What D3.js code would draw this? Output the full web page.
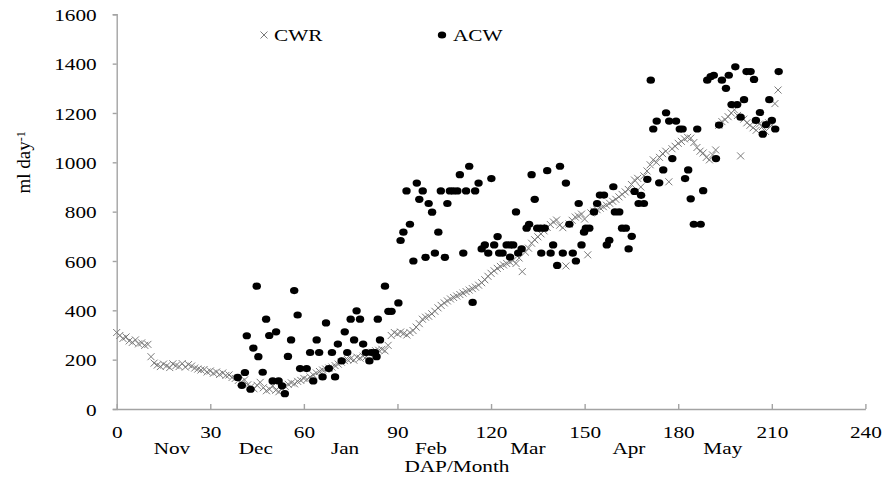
<!DOCTYPE html>
<html>
<head>
<meta charset="utf-8">
<script src="https://cdn.jsdelivr.net/npm/d3@7"></script>
<style>
	body { margin: 0; background: #fff; }
	svg text { font-family: "Liberation Serif", "Times New Roman", serif; fill: #000; }
</style>
</head>
<body>
<div id="chart"></div>
<script>
// Crop water requirement, one value per day after planting (0..212)
const cwrValues = [
	310, 298, 286, 292, 276, 270, 280, 264, 268, 258,
	262, 212, 186, 178, 172, 182, 175, 168, 183, 176,
	172, 184, 170, 180, 174, 166, 162, 158, 160, 150,
	154, 145, 150, 140, 146, 136, 138, 128, 124, 116,
	110, 118, 98, 90, 82, 96, 108, 86, 74, 80,
	94, 76, 70, 84, 92, 100, 106, 102, 112, 116,
	124, 120, 130, 138, 146, 152, 158, 162, 166, 170,
	176, 182, 190, 196, 200, 204, 198, 210, 206, 214,
	212, 224, 230, 236, 238, 242, 236, 258, 298, 310,
	304, 312, 306, 300, 310, 318, 332, 346, 364, 372,
	376, 386, 396, 410, 420, 430, 438, 446, 452, 458,
	464, 470, 476, 482, 488, 494, 502, 512, 524, 538,
	550, 560, 570, 578, 584, 590, 596, 602, 590, 612,
	557, 636, 652, 672, 686, 698, 710, 722, 736, 748,
	758, 766, 745, 735, 580, 750, 765, 778, 782, 790,
	770, 625, 795, 802, 808, 814, 820, 826, 834, 842,
	850, 860, 870, 880, 890, 910, 928, 935, 900, 945,
	965, 990, 1010, 1000, 1020, 1035, 1045, 921, 1055, 1065,
	1077, 1085, 1095, 1101, 1098, 1080, 1060, 1045, 1038, 1020,
	1010, 1030, 1050, 1150, 1165, 1173, 1185, 1200, 1213, 1190,
	1026, 1175, 1160, 1150, 1140, 1130, 1155, 1145, 1125, 1160,
	1150, 1238, 1293,
];

// Actual consumed water: day after planting and value
const acwDays = [
	38.8, 40.1, 41.1, 41.7, 42.9, 43.8, 44.9, 45.4, 46.8, 47.9,
	48.9, 50.0, 51.1, 51.9, 53.0, 53.9, 54.9, 55.9, 56.9, 58.0,
	58.8, 60.9, 62.0, 63.0, 64.1, 64.9, 66.0, 67.1, 68.0, 69.0,
	70.0, 70.9, 72.1, 73.1, 73.9, 75.0, 76.1, 76.9, 78.0, 79.0,
	79.9, 81.0, 81.7, 82.8, 83.3, 83.7, 84.4, 86.0, 87.1, 88.1,
	90.3, 91.0, 91.9, 92.9, 94.0, 95.1, 96.2, 97.0, 98.1, 99.0,
	100.0, 101.1, 102.0, 103.1, 103.9, 105.2, 106.0, 106.8, 107.9, 109.2,
	110.0, 111.1, 112.0, 113.0, 114.1, 114.9, 116.0, 117.0, 118.0, 119.1,
	120.1, 121.0, 122.1, 122.6, 123.7, 125.0, 126.1, 127.1, 126.1, 128.0,
	128.7, 129.8, 131.4, 132.2, 133.0, 134.0, 134.8, 135.9, 136.1, 137.2,
	138.0, 139.1, 139.9, 141.2, 142.1, 143.0, 144.0, 145.1, 146.2, 147.2,
	148.1, 149.0, 149.8, 150.4, 151.5, 153.0, 154.0, 154.9, 156.2, 157.1,
	157.9, 159.2, 159.7, 161.1, 162.0, 163.2, 164.1, 165.1, 166.0, 167.3,
	168.1, 169.0, 170.1, 171.2, 172.0, 173.1, 173.9, 175.2, 176.1, 177.1,
	178.1, 179.3, 180.5, 181.4, 182.2, 183.2, 184.0, 185.0, 186.1, 187.2,
	188.0, 189.3, 190.4, 191.4, 192.1, 193.1, 194.0, 195.3, 196.2, 197.1,
	198.3, 198.9, 200.0, 201.1, 201.9, 203.2, 204.3, 204.9, 206.2, 207.1,
	208.1, 209.2, 210.0, 211.1, 212.2,
];
const acwValues = [
	128, 96, 148, 297, 80, 247, 498, 212, 149, 364,
	298, 114, 313, 114, 94, 62, 213, 280, 480, 381,
	164, 164, 229, 114, 280, 229, 130, 349, 164, 229,
	130, 263, 195, 313, 229, 364, 280, 398, 364, 263,
	229, 195, 229, 229, 212, 364, 280, 498, 396, 396,
	430, 683, 717, 884, 749, 600, 916, 850, 884, 615,
	833, 798, 632, 717, 884, 615, 833, 884, 884, 884,
	950, 632, 884, 984, 432, 884, 916, 649, 665, 632,
	934, 665, 699, 632, 632, 665, 665, 665, 616, 799,
	632, 649, 733, 749, 950, 850, 733, 733, 632, 733,
	966, 632, 665, 582, 984, 632, 916, 749, 632, 600,
	833, 665, 717, 733, 733, 799, 833, 867, 867, 665,
	684, 901, 799, 799, 733, 733, 649, 700, 882, 833,
	866, 833, 931, 1333, 1135, 1167, 917, 969, 1201, 1167,
	1015, 1167, 1135, 1135, 934, 969, 852, 749, 1135, 749,
	885, 1333, 1347, 1353, 1015, 1151, 1333, 1300, 1353, 1234,
	1387, 1234, 1183, 1254, 1368, 1368, 1336, 1170, 1202, 1114,
	1153, 1254, 1170, 1135, 1368,
];

const xTicks = [ 0, 30, 60, 90, 120, 150, 180, 210, 240 ];
const yTicks = [ 0, 200, 400, 600, 800, 1000, 1200, 1400, 1600 ];
const months = [ 'Nov', 'Dec', 'Jan', 'Feb', 'Mar', 'Apr', 'May' ];
const monthMidDay = [ 17.7, 44.6, 73.2, 100.7, 131.8, 164.2, 194.3 ];

const width = 883;
const height = 482;
const margin = { top: 14.3, right: 17.6, bottom: 73, left: 116.7 };
const innerW = width - margin.left - margin.right;
const innerH = height - margin.top - margin.bottom;
const stretch = 1.25; // text in the source is slightly wide
const fontSize = 17;
const axisColor = '#a3a3a3';

const svg = d3.select( '#chart' )
	.append( 'svg' )
	.attr( 'width', width )
	.attr( 'height', height );

const g = svg.append( 'g' )
	.attr( 'transform', `translate(${ margin.left },${ margin.top })` );

const x = d3.scaleLinear().domain( [ 0, 240 ] ).range( [ 0, innerW ] );
const y = d3.scaleLinear().domain( [ 0, 1600 ] ).range( [ innerH, 0 ] );

// wide text helper
function wideText( sel, px, py, anchor ) {
	return sel.append( 'text' )
		.attr( 'x', px / stretch )
		.attr( 'y', py )
		.attr( 'transform', `scale(${ stretch },1)` )
		.attr( 'text-anchor', anchor )
		.style( 'font-size', fontSize + 'px' );
}

// axes
const yAxis = g.append( 'g' )
	.call( d3.axisLeft( y ).tickValues( yTicks ).tickFormat( d3.format( 'd' ) ).tickSize( 4 ).tickPadding( 16 ) );
const xAxis = g.append( 'g' )
	.attr( 'transform', `translate(0,${ innerH })` )
	.call( d3.axisBottom( x ).tickValues( xTicks ).tickFormat( d3.format( 'd' ) ).tickSizeInner( -5 ).tickSizeOuter( 0 ).tickPadding( 17 ) );

[ yAxis, xAxis ].forEach( ( ax ) => {
	ax.attr( 'font-size', null ).attr( 'font-family', null );
	ax.select( '.domain' ).attr( 'stroke', axisColor ).attr( 'stroke-width', 1.4 );
	ax.selectAll( '.tick line' ).attr( 'stroke', axisColor ).attr( 'stroke-width', 1.4 );
	ax.selectAll( '.tick text' )
		.style( 'font-size', fontSize + 'px' )
		.attr( 'x', function() {
			return +d3.select( this ).attr( 'x' ) / stretch;
		} )
		.attr( 'transform', `scale(${ stretch },1)` );
} );
yAxis.selectAll( '.tick text' ).attr( 'dy', '0.36em' );

// month labels under the ticks
months.forEach( ( m, i ) => {
	wideText( g, x( monthMidDay[ i ] ), innerH + 45, 'middle' ).text( m );
} );

// axis titles
wideText( g, innerW * 0.4545, innerH + 63, 'middle' ).text( 'DAP/Month' );

const yTitle = svg.append( 'text' )
	.attr( 'transform', `translate(30,${ margin.top + y( 1000 ) }) rotate(-90)` )
	.attr( 'text-anchor', 'middle' )
	.style( 'font-size', '19px' );
yTitle.append( 'tspan' ).text( 'ml day' );
yTitle.append( 'tspan' ).attr( 'dy', '-0.45em' ).style( 'font-size', '12px' ).text( '-1' );

// CWR crosses
const crossPath = 'M-3.5,-3.5L3.5,3.5M-3.5,3.5L3.5,-3.5';
g.append( 'g' )
	.selectAll( 'path' )
	.data( cwrValues )
	.join( 'path' )
	.attr( 'transform', ( d, i ) => `translate(${ x( i ) },${ y( d ) })` )
	.attr( 'd', crossPath )
	.attr( 'stroke', '#7a7a7a' )
	.attr( 'stroke-width', 1 )
	.attr( 'fill', 'none' );

// ACW dots
g.append( 'g' )
	.selectAll( 'ellipse' )
	.data( acwValues )
	.join( 'ellipse' )
	.attr( 'cx', ( d, i ) => x( acwDays[ i ] ) )
	.attr( 'cy', ( d ) => y( d ) )
	.attr( 'rx', 4.2 )
	.attr( 'ry', 3.6 )
	.attr( 'fill', '#000' );

// legend
const legend = svg.append( 'g' ).attr( 'transform', 'translate(0,35)' );
legend.append( 'path' )
	.attr( 'transform', 'translate(264,0)' )
	.attr( 'd', crossPath )
	.attr( 'stroke', '#7a7a7a' )
	.attr( 'fill', 'none' );
wideText( legend, 274, 6, 'start' ).text( 'CWR' );
legend.append( 'ellipse' )
	.attr( 'cx', 442 )
	.attr( 'cy', 0 )
	.attr( 'rx', 4.2 )
	.attr( 'ry', 3.6 )
	.attr( 'fill', '#000' );
wideText( legend, 453, 6, 'start' ).text( 'ACW' );
</script>
</body>
</html>
